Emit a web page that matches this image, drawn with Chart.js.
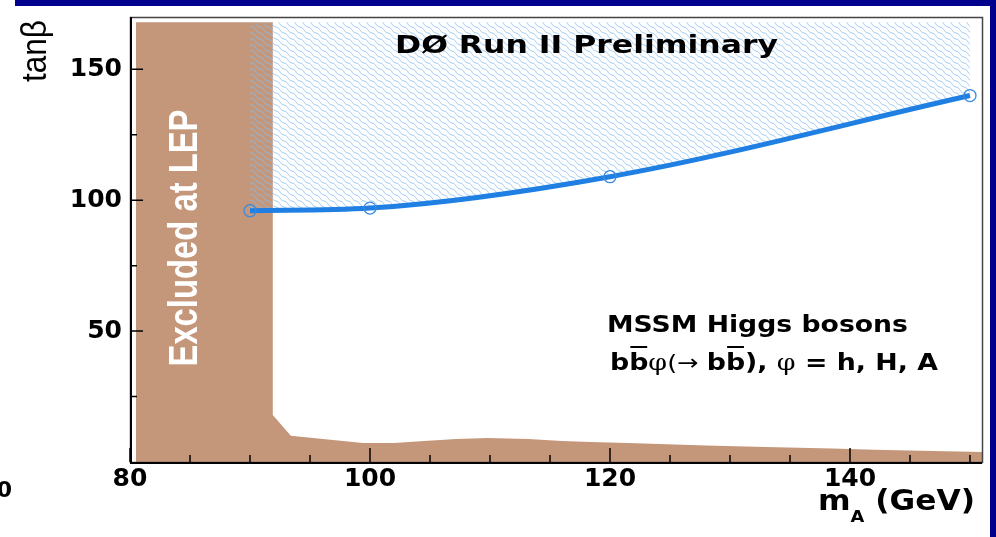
<!DOCTYPE html>
<html>
<head>
<meta charset="utf-8">
<style>
  html, body { margin: 0; padding: 0; background: #fff; overflow: hidden; }
  #wrap { position: relative; width: 996px; height: 537px; }
  #topbar { position: absolute; left: 15px; top: 0; width: 981px; height: 6px; background: #00008c; }
  #rightbar { position: absolute; left: 990px; top: 0; width: 6px; height: 537px; background: #00008c; }
  canvas { position: absolute; left: 0; top: 0; }
</style>
<script src="https://cdn.jsdelivr.net/npm/chart.js@4/dist/chart.umd.min.js"></script>
</head>
<body>
<div id="wrap">
  <canvas id="chart" width="996" height="537"></canvas>
  <div id="topbar"></div>
  <div id="rightbar"></div>
</div>
<script>
// D0 limit on tan(beta) vs m_A
const limitMass = [90, 100, 120, 150];
const limitTanb = [96, 97, 109, 140];
const hatchTop = 168;

// LEP excluded region (upper edge)
const lepMass = [80.5, 91.9, 91.9, 93.4, 99.4, 102, 104.5, 107.2, 109.8, 113.2, 116, 118.4, 121.5, 128, 133, 138.5, 142, 151];
const lepTanb = [168, 168, 18, 10, 7.3, 7.3, 8, 8.8, 9.2, 8.8, 8, 7.6, 7.3, 6.3, 5.7, 5.2, 4.7, 3.8];

const xTickLabels = [80, 100, 120, 140];
const xMinorTicks = [85, 90, 95, 105, 110, 115, 125, 130, 135, 145, 150];
const yTickLabels = [50, 100, 150];
const yMinorTicks = [25, 75, 125];

const BROWN = '#c4977b';
const BLUE = '#1f7fe3';

// light blue wavy hatching, lines running down to the right
function makeHatch() {
  const w = 8, h = 6;
  const c = document.createElement('canvas');
  c.width = w; c.height = h;
  const g = c.getContext('2d');
  g.strokeStyle = 'rgba(135,190,242,0.9)';
  g.lineWidth = 1;
  const len = Math.hypot(w, h);
  const nx = -h / len, ny = w / len;
  for (const dx of [-w, 0, w]) {
    g.beginPath();
    for (let i = 0; i <= 20; i++) {
      const t = i / 20;
      const off = 0.6 * Math.sin(t * 2 * Math.PI);
      const px = dx + t * w + nx * off, py = t * h + ny * off;
      if (i === 0) g.moveTo(px, py); else g.lineTo(px, py);
    }
    g.stroke();
  }
  return g.createPattern(c, 'repeat');
}

function fitText(ctx, text, x, y, w, font, color) {
  ctx.save();
  ctx.font = font;
  ctx.fillStyle = color;
  ctx.textBaseline = 'alphabetic';
  ctx.textAlign = 'left';
  const m = ctx.measureText(text).width;
  ctx.translate(x, y);
  ctx.scale(w / m, 1);
  ctx.fillText(text, 0, 0);
  ctx.restore();
}

// pieces drawn in a row, squeezed/stretched to width w
function fitPieces(ctx, pieces, x, y, w, color) {
  ctx.save();
  ctx.fillStyle = color;
  ctx.strokeStyle = color;
  ctx.textBaseline = 'alphabetic';
  ctx.textAlign = 'left';
  let total = 0;
  for (const p of pieces) {
    ctx.font = p.font;
    p.w = ctx.measureText(p.t).width;
    total += p.w;
  }
  ctx.translate(x, y);
  ctx.scale(w / total, 1);
  let cx = 0;
  for (const p of pieces) {
    ctx.font = p.font;
    ctx.fillText(p.t, cx, p.dy || 0);
    if (p.bar) {
      ctx.lineWidth = 2;
      ctx.beginPath();
      ctx.moveTo(cx + 1, -23);
      ctx.lineTo(cx + p.w - 1, -23);
      ctx.stroke();
    }
    cx += p.w;
  }
  ctx.restore();
}

function rotatedText(ctx, text, cx, cy, len, height, font, color) {
  ctx.save();
  ctx.font = font;
  ctx.fillStyle = color;
  ctx.textAlign = 'center';
  ctx.textBaseline = 'middle';
  const m = ctx.measureText(text).width;
  ctx.translate(cx, cy);
  ctx.rotate(-Math.PI / 2);
  ctx.scale(len / m, height);
  ctx.fillText(text, 0, 0);
  ctx.restore();
}

const decor = {
  id: 'decor',
  afterDatasetsDraw(chart) {
    const ctx = chart.ctx;
    const xs = chart.scales.x, ys = chart.scales.y;
    const a = chart.chartArea;

    // frame
    ctx.save();
    ctx.strokeStyle = '#444';
    ctx.lineWidth = 1.5;
    ctx.strokeRect(a.left + 0.5, a.top + 0.5, a.right - a.left, a.bottom - a.top);
    ctx.strokeStyle = '#000';
    ctx.lineWidth = 2;
    ctx.beginPath();
    ctx.moveTo(a.left + 1, a.top);
    ctx.lineTo(a.left + 1, a.bottom + 1);
    ctx.lineTo(a.right, a.bottom + 1);
    ctx.stroke();

    // inside ticks
    ctx.lineWidth = 1.5;
    ctx.beginPath();
    for (const v of xTickLabels) {
      const px = xs.getPixelForValue(v);
      ctx.moveTo(px, a.bottom); ctx.lineTo(px, a.bottom - 14);
    }
    for (const v of xMinorTicks) {
      const px = xs.getPixelForValue(v);
      ctx.moveTo(px, a.bottom); ctx.lineTo(px, a.bottom - 7);
    }
    for (const v of yTickLabels) {
      const py = ys.getPixelForValue(v);
      ctx.moveTo(a.left, py); ctx.lineTo(a.left + 13, py);
    }
    for (const v of yMinorTicks) {
      const py = ys.getPixelForValue(v);
      ctx.moveTo(a.left, py); ctx.lineTo(a.left + 7, py);
    }
    ctx.stroke();
    ctx.restore();

    rotatedText(ctx, 'Excluded at LEP', 186, 238, 257, 1.35, 'bold 30px "Liberation Sans"', '#fff');
    rotatedText(ctx, 'tan\u03b2', 36, 51, 62, 1.3, '27px "Liberation Sans"', '#000');

    fitText(ctx, 'D\u00d8 Run II Preliminary', 395, 53, 383, 'bold 25px "DejaVu Sans"', '#000');
    fitText(ctx, 'MSSM Higgs bosons', 607, 332, 301, 'bold 23px "DejaVu Sans"', '#000');

    const B = 'bold 23px "DejaVu Sans"';
    const S = '23px "DejaVu Serif"';
    fitPieces(ctx, [
      { t: 'b', font: B },
      { t: 'b', font: B, bar: true },
      { t: '\u03c6', font: S },
      { t: '(\u2192 ', font: '22px "DejaVu Sans"' },
      { t: 'b', font: B },
      { t: 'b', font: B, bar: true },
      { t: '), ', font: B },
      { t: '\u03c6', font: S },
      { t: ' = h, H, A', font: B }
    ], 610, 370, 328, '#000');

    fitPieces(ctx, [
      { t: 'm', font: 'bold 28px "DejaVu Sans"' },
      { t: 'A', font: 'bold 16px "DejaVu Sans"', dy: 12 },
      { t: ' (GeV)', font: 'bold 28px "DejaVu Sans"' }
    ], 818, 510, 157, '#000');

    ctx.save();
    ctx.font = 'bold 22px "DejaVu Sans"';
    ctx.fillStyle = '#000';
    ctx.textAlign = 'right';
    ctx.textBaseline = 'alphabetic';
    ctx.fillText('0', 12, 497);
    ctx.restore();
  }
};

const hatch = makeHatch();

new Chart(document.getElementById('chart'), {
  type: 'line',
  data: {
    datasets: [
      {
        label: 'D0 limit',
        data: limitMass.map((m, i) => ({ x: m, y: limitTanb[i] })),
        borderColor: BLUE,
        borderWidth: 5,
        cubicInterpolationMode: 'monotone',
        pointRadius: 6,
        pointBorderWidth: 1.3,
        pointBorderColor: '#3a8ae0',
        pointBackgroundColor: 'rgba(0,0,0,0)',
        fill: { value: hatchTop },
        backgroundColor: hatch,
        order: 1
      },
      {
        label: 'Excluded at LEP',
        data: lepMass.map((m, i) => ({ x: m, y: lepTanb[i] })),
        borderWidth: 0,
        borderColor: BROWN,
        backgroundColor: BROWN,
        pointRadius: 0,
        tension: 0,
        fill: 'origin',
        order: 2
      }
    ]
  },
  options: {
    responsive: false,
    animation: false,
    layout: { padding: { top: 17, right: 14, left: 0, bottom: 0 } },
    plugins: { legend: { display: false }, tooltip: { enabled: false } },
    scales: {
      x: {
        type: 'linear', min: 80, max: 151,
        grid: { display: false, drawTicks: false },
        border: { display: false },
        afterBuildTicks: s => { s.ticks = xTickLabels.map(v => ({ value: v })); },
        afterFit: s => { s.height = 75; s.paddingLeft = 0; s.paddingRight = 0; },
        ticks: { color: '#000', padding: 2, maxRotation: 0, autoSkip: false,
                 font: { family: 'DejaVu Sans', weight: 'bold', size: 25 } }
      },
      y: {
        type: 'linear', min: 0, max: 170,
        grid: { display: false, drawTicks: false },
        border: { display: false },
        afterBuildTicks: s => { s.ticks = yTickLabels.map(v => ({ value: v })); },
        afterFit: s => { s.width = 130; s.paddingTop = 0; s.paddingBottom = 0; },
        ticks: { color: '#000', padding: 8, autoSkip: false,
                 font: { family: 'DejaVu Sans', weight: 'bold', size: 25 } }
      }
    }
  },
  plugins: [decor]
});
</script>
</body>
</html>
